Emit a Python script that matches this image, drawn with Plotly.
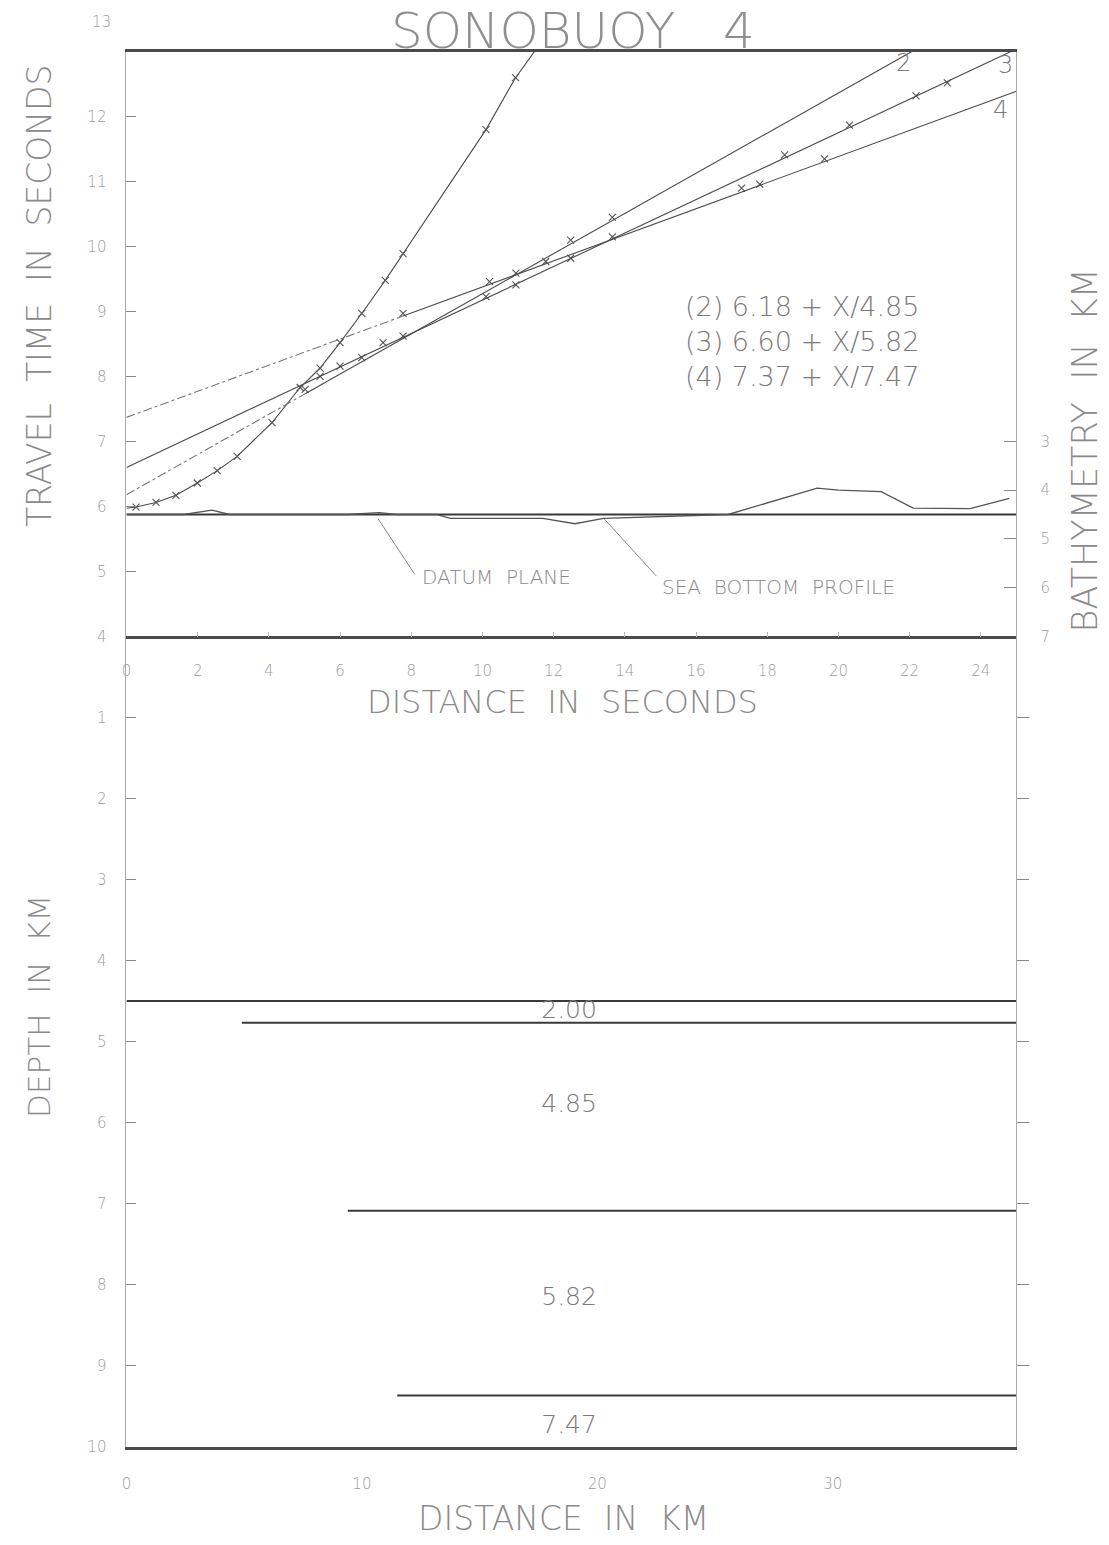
import plotly.graph_objects as go

W, H = 1109, 1545

# ---------------- travel-time data (distance in seconds, time in seconds) ----------------
# first arrivals through the shallow layer
direct_x = [0.27, 0.83, 1.39, 1.99, 2.55, 3.11, 4.09, 4.88, 5.44, 6.00, 6.61, 7.27, 7.77, 10.10, 10.93]
direct_t = [5.99, 6.06, 6.17, 6.36, 6.55, 6.77, 7.29, 7.83, 8.13, 8.52, 8.97, 9.48, 9.89, 11.80, 12.60]
direct_start = (0.0, 5.97)
direct_end = (11.46, 13.0)

# refracted branches: t = intercept + X / velocity  (X in km)
branch_names = ["2", "3", "4"]
branch_intercepts = [6.18, 6.60, 7.37]
branch_velocities = [4.85, 5.82, 7.47]
water_velocity = 1.5  # km/s, converts distance in seconds to km

picks2_x = [5.02, 7.21, 10.94, 12.48, 13.65]
picks2_t = [7.80, 8.52, 9.59, 10.10, 10.45]
picks3_x = [5.44, 6.00, 6.61, 7.77, 10.10, 10.94, 12.48, 18.49, 20.31, 22.18, 23.06]
picks3_t = [8.00, 8.16, 8.29, 8.62, 9.23, 9.41, 9.82, 11.41, 11.87, 12.32, 12.52]
picks4_x = [7.77, 10.20, 11.78, 13.65, 17.28, 17.79, 19.61]
picks4_t = [8.97, 9.46, 9.77, 10.15, 10.90, 10.96, 11.35]

# bathymetry along the line (km below sea level)
profile_x = [0, 1.6, 2.4, 2.9, 6.2, 7.1, 7.6, 8.7, 9.1, 11.7, 12.6, 13.4, 16.9, 19.4, 20.0, 21.2, 22.1, 23.7, 24.8]
profile_km = [4.5, 4.5, 4.41, 4.5, 4.5, 4.46, 4.5, 4.5, 4.58, 4.58, 4.69, 4.58, 4.5, 3.96, 4.0, 4.03, 4.37, 4.38, 4.17]
datum_km = 4.5

# ---------------- layered model (distance in km, depth in km) ----------------
interface_depth = [4.5, 4.77, 7.09, 9.37]
interface_start_km = [0.0, 4.9, 9.4, 11.5]
layer_velocity = ["2.00", "4.85", "5.82", "7.47"]
layer_label_depth = [4.63, 5.8, 8.18, 9.75]

x_sec_ticks = list(range(0, 25, 2))
t_ticks = list(range(4, 13))
bathy_ticks = [3, 4, 5, 6, 7]
depth_ticks = list(range(1, 11))
km_ticks = [0, 10, 20, 30]

X_MAX_SEC = 25.0
X_MAX_KM = 37.8

FONT = "DejaVu Sans"
W_THIN = 200
INK = "#4a4a4a"
TXT = "#8a8a8a"
LIGHT = "#9c9c9c"


def px(x):
    return x / W


def py(y):
    return 1 - y / H


fig = go.Figure()

# direct-wave curve and picks
fig.add_trace(go.Scatter(
    x=[direct_start[0]] + direct_x + [direct_end[0]],
    y=[direct_start[1]] + direct_t + [direct_end[1]],
    mode="lines", line=dict(color=INK, width=1.1), xaxis="x", yaxis="y", hoverinfo="skip"))

marker = dict(symbol="x-thin", size=7, line=dict(width=1.1, color="#555"))
for xs, ts in [(direct_x, direct_t), (picks2_x, picks2_t), (picks3_x, picks3_t), (picks4_x, picks4_t)]:
    fig.add_trace(go.Scatter(x=xs, y=ts, mode="markers", marker=marker,
                             xaxis="x", yaxis="y", hoverinfo="skip"))

# refraction lines, dash-dot where extrapolated before the first pick
first_pick = [picks2_x[0], 0.0, picks4_x[0]]
for name, a, v, x0 in zip(branch_names, branch_intercepts, branch_velocities, first_pick):
    slope = water_velocity / v
    x_end = min(X_MAX_SEC, (13.0 - a) / slope)
    if x0 > 0:
        fig.add_trace(go.Scatter(x=[0, x0], y=[a, a + slope * x0], mode="lines",
                                 line=dict(color="#777", width=1.1, dash="dashdot"),
                                 xaxis="x", yaxis="y", hoverinfo="skip"))
    fig.add_trace(go.Scatter(x=[x0, x_end], y=[a + slope * x0, a + slope * x_end], mode="lines",
                             line=dict(color=INK, width=1.1), xaxis="x", yaxis="y", hoverinfo="skip"))

# datum plane and sea-bottom profile on the bathymetry axis
fig.add_trace(go.Scatter(x=[0, X_MAX_SEC], y=[datum_km, datum_km], mode="lines",
                         line=dict(color="#3a3a3a", width=2), xaxis="x", yaxis="y2", hoverinfo="skip"))
fig.add_trace(go.Scatter(x=profile_x, y=profile_km, mode="lines",
                         line=dict(color="#555", width=1.3), xaxis="x", yaxis="y2", hoverinfo="skip"))

# layer interfaces
for d, x0 in zip(interface_depth, interface_start_km):
    fig.add_trace(go.Scatter(x=[x0, X_MAX_KM], y=[d, d], mode="lines",
                             line=dict(color="#3a3a3a", width=2), xaxis="x2", yaxis="y3", hoverinfo="skip"))

# layer velocities
fig.add_trace(go.Scatter(x=[18.8] * len(layer_velocity), y=layer_label_depth, text=layer_velocity,
                         mode="text", textfont=dict(family=FONT, size=25, color="#7a7a7a", weight=W_THIN),
                         xaxis="x2", yaxis="y4", hoverinfo="skip"))

tickfont = dict(family=FONT, size=15, color=LIGHT, weight=W_THIN)
xdom = [px(122), px(1016)]

fig.update_layout(
    width=W, height=H, margin=dict(l=0, r=0, t=0, b=0),
    paper_bgcolor="white", plot_bgcolor="rgba(0,0,0,0)", showlegend=False,
    xaxis=dict(domain=xdom, range=[0, X_MAX_SEC], anchor="y", tickvals=x_sec_ticks,
               ticks="inside", ticklen=5, tickcolor="#bbb", showline=True, linewidth=2.5,
               linecolor="#4a4a4a", mirror=True, showgrid=False, zeroline=False,
               tickfont=tickfont, ticklabelstandoff=19),
    yaxis=dict(domain=[py(640), py(52)], range=[4, 13], anchor="x", tickvals=t_ticks,
               ticks="inside", ticklen=10, tickcolor="#888", showline=True, linewidth=1,
               linecolor="#aaa", showgrid=False, zeroline=False, tickfont=tickfont,
               ticklabelstandoff=16),
    yaxis2=dict(overlaying="y", side="right", anchor="x", range=[7, -5], tickvals=bathy_ticks,
                ticks="inside", ticklen=12, tickcolor="#888", showline=True, linewidth=1,
                linecolor="#aaa", showgrid=False, zeroline=False, tickfont=tickfont,
                ticklabelstandoff=20),
    xaxis2=dict(domain=xdom, range=[0, X_MAX_KM], anchor="y3", tickvals=km_ticks, ticks="",
                showline=True, linewidth=2.5, linecolor="#4a4a4a", showgrid=False,
                zeroline=False, tickfont=tickfont, ticklabelstandoff=22),
    yaxis3=dict(domain=[py(1455), py(640)], range=[10, 0], anchor="x2", tickvals=depth_ticks,
                ticks="inside", ticklen=10, tickcolor="#888", showline=True, linewidth=1,
                linecolor="#aaa", showgrid=False, zeroline=False, tickfont=tickfont,
                ticklabelstandoff=16),
    yaxis4=dict(overlaying="y3", side="right", anchor="x2", range=[10, 0], tickvals=depth_ticks[:-1],
                ticks="outside", ticklen=12, tickcolor="#888", showticklabels=False,
                showline=True, linewidth=1, linecolor="#aaa", showgrid=False, zeroline=False),
)

eq_text = "<br>".join(f"({n}) {a:.2f} + X/{v:.2f}"
                      for n, a, v in zip(branch_names, branch_intercepts, branch_velocities))

ann = [
    dict(text="SONOBUOY   4", x=px(571), y=1.0, yanchor="top", font=dict(size=50, color="#8f8f8f")),
    dict(text="TRAVEL  TIME  IN  SECONDS", x=px(34), y=py(298), textangle=-90,
         font=dict(size=33, color=TXT)),
    dict(text="BATHYMETRY  IN  KM", x=px(1085), y=py(453), textangle=-90,
         font=dict(size=35, color=TXT)),
    dict(text="DEPTH  IN  KM", x=px(34), y=py(1012), textangle=-90,
         font=dict(size=31, color=TXT)),
    dict(text="DISTANCE  IN  SECONDS", x=px(560), y=py(706), font=dict(size=32, color=TXT)),
    dict(text="DISTANCE  IN  KM", x=px(561), y=py(1527), font=dict(size=33, color=TXT)),
    dict(text="13", x=px(97), y=py(22), font=dict(tickfont)),
    dict(text=eq_text, x=px(681), y=py(344), xanchor="left", align="left",
         font=dict(size=27, color="#7a7a7a")),
]
for a in ann:
    a.setdefault("xref", "paper")
    a.setdefault("yref", "paper")
    a.setdefault("xanchor", "center")
    a.setdefault("yanchor", "middle")
    a.setdefault("showarrow", False)
    a["font"].setdefault("family", FONT)
    a["font"].setdefault("weight", W_THIN)
    fig.add_annotation(**a)

# branch numbers next to the line ends
for name, (lx, ly) in zip(branch_names, [(21.84, 12.83), (24.69, 12.80), (24.55, 12.11)]):
    fig.add_annotation(text=name, x=lx, y=ly, xref="x", yref="y", showarrow=False,
                       xanchor="center", yanchor="middle",
                       font=dict(family=FONT, size=24, color="#7a7a7a", weight=W_THIN))

# profile callouts
callout_font = dict(family=FONT, size=20, color=TXT, weight=W_THIN)
fig.add_annotation(text="DATUM  PLANE", x=8.25, y=5.78, xref="x", yref="y2", xanchor="left",
                   yanchor="middle", showarrow=False, font=callout_font)
fig.add_annotation(text="SEA  BOTTOM  PROFILE", x=14.99, y=5.98, xref="x", yref="y2", xanchor="left",
                   yanchor="middle", showarrow=False, font=callout_font)
fig.add_shape(type="line", x0=7.07, y0=4.59, x1=8.1, y1=5.73, xref="x", yref="y2",
              line=dict(color="#888", width=1))
fig.add_shape(type="line", x0=13.42, y0=4.59, x1=14.88, y1=5.76, xref="x", yref="y2",
              line=dict(color="#888", width=1))

fig.write_html("out.html")
